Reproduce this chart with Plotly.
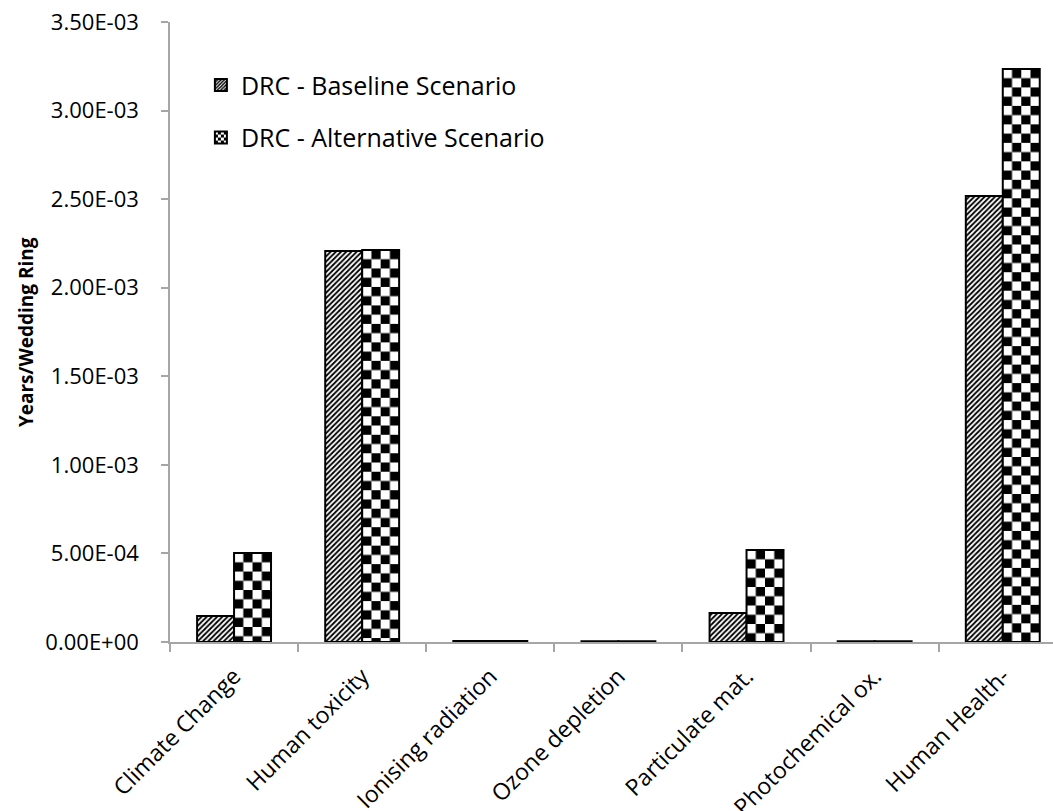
import plotly.graph_objects as go

# Impact categories (human-health endpoint, DALY-type units per ring)
categories = [
    "Climate Change",
    "Human toxicity",
    "Ionising radiation",
    "Ozone depletion",
    "Particulate mat.",
    "Photochemical ox.",
    "Human Health-",
]
baseline = [1.47e-4, 2.207e-3, 5.0e-6, 4.0e-6, 1.64e-4, 4.0e-6, 2.518e-3]
alternative = [5.02e-4, 2.213e-3, 5.0e-6, 4.0e-6, 5.19e-4, 4.0e-6, 3.235e-3]
series_names = ["DRC - Baseline Scenario", "DRC - Alternative Scenario"]

y_ticks = [0, 5e-4, 1e-3, 1.5e-3, 2e-3, 2.5e-3, 3e-3, 3.5e-3]
y_tick_text = [f"{v:.2E}" for v in y_ticks]

FONT = "Open Sans"
AXIS_GREY = "#a6a6a6"

fig = go.Figure()
fig.add_trace(go.Bar(
    x=categories, y=baseline, name=series_names[0],
    legendgroup="a",
    marker=dict(color="white", line=dict(color="black", width=2)),
))
fig.add_trace(go.Bar(
    x=categories, y=alternative, name=series_names[1],
    legendgroup="b",
    marker=dict(color="white", line=dict(color="black", width=2)),
))

fig.update_layout(
    width=1053, height=811,
    margin=dict(l=170, r=0, t=22, b=169),
    plot_bgcolor="white", paper_bgcolor="white",
    barmode="group", bargap=0.423, bargroupgap=0,
    font=dict(family=FONT, color="black"),
    showlegend=True,
    legend=dict(x=0.035, y=0.935, xanchor="left", yanchor="top",
                font=dict(size=25, family=FONT),
                tracegroupgap=17, bgcolor="rgba(0,0,0,0)"),
    xaxis=dict(
        range=[-0.5, 6.392], automargin=False,
        showline=True, linecolor=AXIS_GREY, linewidth=1.5,
        ticks="outside", tickson="boundaries", ticklen=8,
        tickcolor=AXIS_GREY, tickwidth=1.5,
        tickangle=-45, tickfont=dict(size=23, family=FONT),
        ticklabelstandoff=10,
        showgrid=False, zeroline=False,
    ),
    yaxis=dict(
        range=[0, 3.5e-3], automargin=False,
        tickvals=y_ticks, ticktext=y_tick_text,
        showline=True, linecolor=AXIS_GREY, linewidth=1.5,
        ticks="outside", ticklen=7, tickcolor=AXIS_GREY, tickwidth=1.5,
        tickfont=dict(size=22, family=FONT),
        ticklabelstandoff=18,
        showgrid=False, zeroline=False,
    ),
    annotations=[dict(
        text="<b>Years/Wedding Ring</b>", textangle=-90,
        xref="paper", yref="paper", x=-0.163, y=0.5,
        xanchor="center", yanchor="middle", showarrow=False,
        font=dict(size=19, family=FONT),
    )],
)

# Fill patterns: diagonal hatching for the baseline bars and a checkerboard
# for the alternative bars (cells a quarter of the bar width), applied to the
# bars and to their legend swatches once the plot has been drawn.
pattern_js = r"""
var gd = document.getElementById('{plot_id}');
var ns = 'http://www.w3.org/2000/svg';
var svg = gd.querySelector('svg.main-svg');
var defs = svg.querySelector('defs');
var count = 0;
function newPattern(x, y, w, h) {
  var pat = document.createElementNS(ns, 'pattern');
  pat.setAttribute('id', 'fillpat-' + (count++));
  pat.setAttribute('patternUnits', 'userSpaceOnUse');
  pat.setAttribute('x', x); pat.setAttribute('y', y);
  pat.setAttribute('width', w); pat.setAttribute('height', h);
  var bg = document.createElementNS(ns, 'rect');
  bg.setAttribute('width', w); bg.setAttribute('height', h);
  bg.setAttribute('fill', 'white');
  pat.appendChild(bg);
  defs.appendChild(pat);
  return pat;
}
function checker(x, y, cell) {
  var pat = newPattern(x, y, 2 * cell, 2 * cell);
  [[cell, 0], [0, cell]].forEach(function (c) {
    var r = document.createElementNS(ns, 'rect');
    r.setAttribute('x', c[0]); r.setAttribute('y', c[1]);
    r.setAttribute('width', cell); r.setAttribute('height', cell);
    r.setAttribute('fill', 'black');
    pat.appendChild(r);
  });
  return 'url(#' + pat.id + ')';
}
function hatch(x, y, s, frac) {
  var pat = newPattern(x, y, s, s);
  var p = document.createElementNS(ns, 'path');
  p.setAttribute('d',
    'M' + (-s) + ',' + s + 'L' + s + ',' + (-s) +
    'M0,' + s + 'L' + s + ',0' +
    'M0,' + (2 * s) + 'L' + (2 * s) + ',0');
  p.setAttribute('stroke', 'black');
  p.setAttribute('stroke-width', s * frac);
  p.setAttribute('fill', 'none');
  pat.appendChild(p);
  return 'url(#' + pat.id + ')';
}
var traces = gd.querySelectorAll('.barlayer .trace.bars');
traces[0].querySelectorAll('path').forEach(function (p) {
  var bb = p.getBBox();
  if (bb.height < 3) return;
  p.style.fill = hatch(bb.x, bb.y + bb.height, 5.2, 0.36);
});
traces[1].querySelectorAll('path').forEach(function (p) {
  var bb = p.getBBox();
  if (bb.height < 3) return;
  p.style.fill = checker(bb.x, bb.y, bb.width / 4);
});
var legendTraces = gd.querySelectorAll('.legend .traces');
var l0 = legendTraces[0].querySelector('.legendpoints path');
if (l0) { var b0 = l0.getBBox(); l0.style.fill = hatch(b0.x, b0.y, 3.4, 0.4); }
var l1 = legendTraces[1].querySelector('.legendpoints path');
if (l1) { var b1 = l1.getBBox(); l1.style.fill = checker(b1.x, b1.y, b1.width / 4); }
"""

fig.write_html("out.html", post_script=pattern_js)
